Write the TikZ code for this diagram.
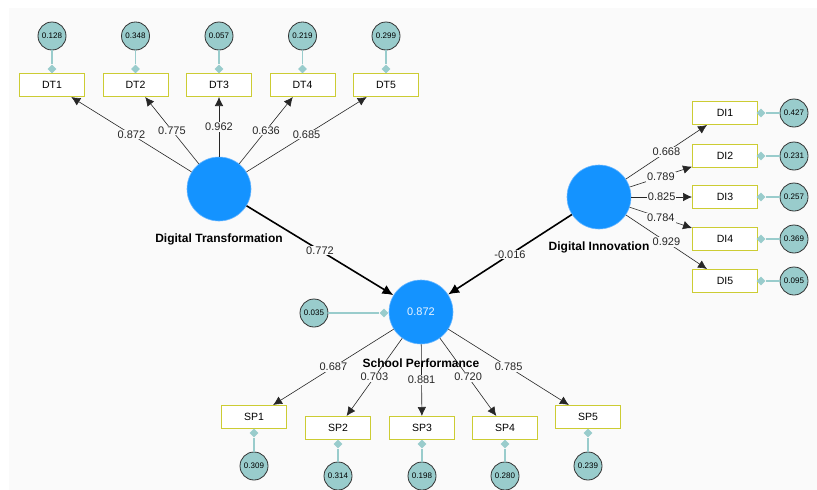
\documentclass[tikz,border=0pt]{standalone}
\usepackage{fontspec}
\setmainfont{Liberation Sans}
\usetikzlibrary{arrows.meta,shapes.geometric}

\definecolor{fond}{HTML}{FAFAFA}
\definecolor{bleulatent}{HTML}{1493FF}
\definecolor{bordlatent}{HTML}{6CB8FF}
\definecolor{vertresidu}{HTML}{99CCCC}
\definecolor{jaunebord}{HTML}{CCCC33}

\tikzset{
  latente/.style={circle, fill=bleulatent, draw=bordlatent, line width=0.6pt, minimum size=64pt, inner sep=0pt, text=white!92!bleulatent, font=\fontsize{11}{12}\selectfont},
  residu/.style={circle, fill=vertresidu, draw=black!80, line width=0.8pt, minimum size=28pt, inner sep=0pt, font=\fontsize{8}{9}\selectfont},
  indicateur/.style={rectangle, fill=white, draw=jaunebord, line width=1pt, minimum width=65pt, minimum height=23pt, inner sep=0pt, font=\fontsize{10.5}{12}\selectfont},
  losange/.style={diamond, fill=vertresidu, inner sep=0pt, minimum size=9pt},
  lienres/.style={draw=vertresidu, line width=1.3pt},
  charge/.style={draw=black!85, line width=0.6pt, -{Latex[length=9pt,width=8.5pt]}},
  chemin/.style={draw=black, line width=1.6pt, -{Latex[length=11pt,width=10pt]}},
  poids/.style={fill=fond, inner sep=1pt, font=\fontsize{11}{12}\selectfont, text=black!85},
  titre/.style={font=\bfseries\fontsize{12}{14}\selectfont},
}

\begin{document}
\begin{tikzpicture}[x=1pt, y=-1pt]

% Fond
\useasboundingbox (0,0) rectangle (817,490);
\fill[fond] (9,8) rectangle (817,490);

% Variables latentes
\node[latente] (DT) at (219,189) {};
\node[latente] (DI) at (599,197) {};
\node[latente] (SP) at (421,312) {0.872};

% Indicateurs DT
\node[indicateur] (DT1) at (52,85) {DT1};
\node[indicateur] (DT2) at (135.5,85) {DT2};
\node[indicateur] (DT3) at (219,85) {DT3};
\node[indicateur] (DT4) at (302.5,85) {DT4};
\node[indicateur] (DT5) at (386,85) {DT5};

% Indicateurs DI
\node[indicateur] (DI1) at (725,113) {DI1};
\node[indicateur] (DI2) at (725,156) {DI2};
\node[indicateur] (DI3) at (725,197) {DI3};
\node[indicateur] (DI4) at (725,239) {DI4};
\node[indicateur] (DI5) at (725,281) {DI5};

% Indicateurs SP
\node[indicateur] (SP1) at (254,417) {SP1};
\node[indicateur] (SP2) at (338,428) {SP2};
\node[indicateur] (SP3) at (422,428) {SP3};
\node[indicateur] (SP4) at (505,428) {SP4};
\node[indicateur] (SP5) at (588,417) {SP5};

% Residus DT
\node[residu] (rDT1) at (52,36) {0.128};
\node[residu] (rDT2) at (135.5,36) {0.348};
\node[residu] (rDT3) at (219,36) {0.057};
\node[residu] (rDT4) at (302.5,36) {0.219};
\node[residu] (rDT5) at (386,36) {0.299};
\node[losange] (lDT1) at (52,69) {};
\node[losange] (lDT2) at (135.5,69) {};
\node[losange] (lDT3) at (219,69) {};
\node[losange] (lDT4) at (302.5,69) {};
\node[losange] (lDT5) at (386,69) {};

% Residus DI
\node[residu] (rDI1) at (794,113) {0.427};
\node[residu] (rDI2) at (794,156) {0.231};
\node[residu] (rDI3) at (794,197) {0.257};
\node[residu] (rDI4) at (794,239) {0.369};
\node[residu] (rDI5) at (794,281) {0.095};
\node[losange] (lDI1) at (761,113) {};
\node[losange] (lDI2) at (761,156) {};
\node[losange] (lDI3) at (761,197) {};
\node[losange] (lDI4) at (761,239) {};
\node[losange] (lDI5) at (761,281) {};

% Residus SP
\node[residu] (rSP1) at (254,466) {0.309};
\node[residu] (rSP2) at (338,476) {0.314};
\node[residu] (rSP3) at (422,476) {0.198};
\node[residu] (rSP4) at (505,476) {0.280};
\node[residu] (rSP5) at (588,466) {0.239};
\node[losange] (lSP1) at (254,433) {};
\node[losange] (lSP2) at (338,444) {};
\node[losange] (lSP3) at (422,444) {};
\node[losange] (lSP4) at (505,444) {};
\node[losange] (lSP5) at (588,433) {};
\node[residu] (rSP) at (314,313) {0.035};
\node[losange] (lSP) at (384,313) {};

% Liens des residus
\draw[lienres] (rDT1) -- (lDT1);
\draw[lienres] (rDT2) -- (lDT2);
\draw[lienres] (rDT3) -- (lDT3);
\draw[lienres] (rDT4) -- (lDT4);
\draw[lienres] (rDT5) -- (lDT5);
\draw[lienres] (rDI1) -- (lDI1);
\draw[lienres] (rDI2) -- (lDI2);
\draw[lienres] (rDI3) -- (lDI3);
\draw[lienres] (rDI4) -- (lDI4);
\draw[lienres] (rDI5) -- (lDI5);
\draw[lienres] (rSP1) -- (lSP1);
\draw[lienres] (rSP2) -- (lSP2);
\draw[lienres] (rSP3) -- (lSP3);
\draw[lienres] (rSP4) -- (lSP4);
\draw[lienres] (rSP5) -- (lSP5);
\draw[lienres, line width=1.8pt] (rSP) -- (lSP);

% Charges
\draw[charge] (DT) -- node[poids] {0.872} (DT1);
\draw[charge] (DT) -- node[poids] {0.775} (DT2);
\draw[charge] (DT) -- node[poids] {0.962} (DT3);
\draw[charge] (DT) -- node[poids] {0.636} (DT4);
\draw[charge] (DT) -- node[poids] {0.685} (DT5);
\draw[charge] (DI) -- node[poids] {0.668} (DI1);
\draw[charge] (DI) -- node[poids] {0.789} (DI2);
\draw[charge] (DI) -- node[poids] {0.825} (DI3);
\draw[charge] (DI) -- node[poids] {0.784} (DI4);
\draw[charge] (DI) -- node[poids] {0.929} (DI5);
\draw[charge] (SP) -- node[poids] {0.687} (SP1);
\draw[charge] (SP) -- node[poids] {0.703} (SP2);
\draw[charge] (SP) -- node[poids] {0.881} (SP3);
\draw[charge] (SP) -- node[poids] {0.720} (SP4);
\draw[charge] (SP) -- node[poids] {0.785} (SP5);

% Chemins structurels
\draw[chemin] (DT) -- node[poids] {0.772} (SP);
\draw[chemin] (DI) -- node[poids] {-0.016} (SP);

% Noms
\node[titre] (nDT) at (219,239) {Digital Transformation};
\node[titre] (nDI) at (599,247) {Digital Innovation};
\node[titre] (nSP) at (421,363) {School Performance};

\end{tikzpicture}
\end{document}
